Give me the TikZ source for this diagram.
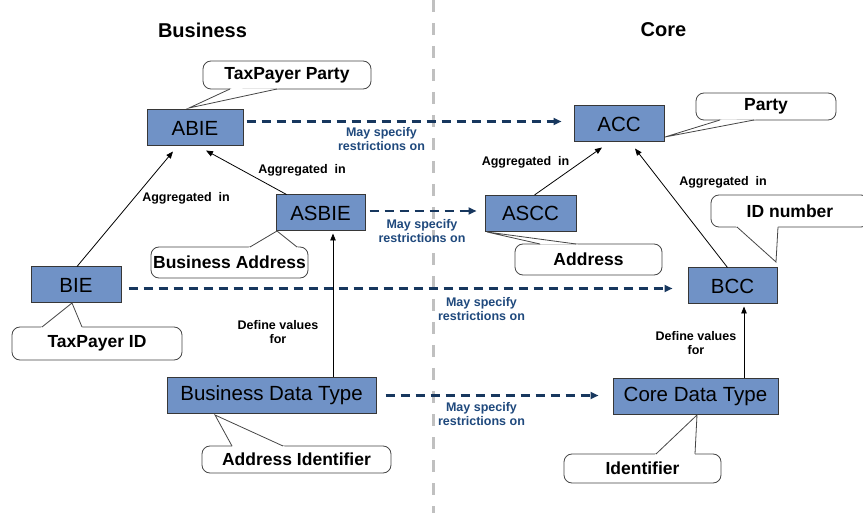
\documentclass[tikz,border=0pt]{standalone}
\usepackage{fontspec}
\setmainfont{Liberation Sans}
\usetikzlibrary{arrows.meta,calc}

\definecolor{boxblue}{RGB}{112,146,198}
\definecolor{boxline}{RGB}{55,55,55}
\definecolor{noteline}{RGB}{70,70,70}
\definecolor{navy}{RGB}{23,55,94}
\definecolor{labelblue}{RGB}{31,73,125}
\definecolor{divider}{RGB}{192,192,192}

% pointer of a speech bubble: base point, tip, base point
\newcommand\wedgeto[3]{%
  \fill[white] ($(#1)!-2pt!(#2)$) -- (#2) -- ($(#3)!-2pt!(#2)$) -- cycle;
  \draw[noteline, line width=0.8pt, line join=miter] (#1) -- (#2) -- (#3);
}
\newcommand\agglabel{Aggregated\hspace{0.55em}in}

\begin{document}
\begin{tikzpicture}[x=1pt,y=-1pt,
  entity/.style={draw=boxline, line width=1pt, fill=boxblue, inner sep=0pt,
    minimum height=36pt, font=\fontsize{20.5}{24}\selectfont},
  note/.style={draw=noteline, line width=0.8pt, fill=white, rounded corners=8pt,
    inner sep=0pt, font=\bfseries\fontsize{17.5}{21}\selectfont},
  relabel/.style={font=\bfseries\fontsize{12.5}{14}\selectfont, align=center, inner sep=0pt},
  restrict/.style={relabel, text=labelblue},
  agg/.style={-{Triangle[length=7pt,width=5.5pt]}, line width=0.8pt},
  spec/.style={-{Triangle[length=8pt,width=7pt]}, navy, line width=2.2pt,
    dash pattern=on 9pt off 6pt},
  header/.style={font=\bfseries\fontsize{20}{24}\selectfont, inner sep=0pt}
]
\useasboundingbox[fill=white] (0,0) rectangle (863,513);

% dividing line between the two layers
\draw[divider, line width=3pt, dash pattern=on 12pt off 11pt] (433,0) -- (433,513);

% column headings
\node[header] (hbus) at (202.5,30) {Business};
\node[header] (hcore) at (663.5,30) {Core};

% components
\node[entity, minimum width=96pt]  (abie)  at (195,128)     {ABIE};
\node[entity, minimum width=90pt]  (acc)   at (619,124)     {ACC};
\node[entity, minimum width=89pt]  (asbie) at (320.5,213)   {ASBIE};
\node[entity, minimum width=91pt]  (ascc)  at (530.5,213.5) {ASCC};
\node[entity, minimum width=90pt]  (bie)   at (76,285)      {BIE};
\node[entity, minimum width=89pt]  (bcc)   at (732.5,286)   {BCC};
\node[entity, minimum width=209pt] (bdt)   at (271.5,395.5) {Business Data Type};
\node[entity, minimum width=165pt] (cdt)   at (695.5,396.5) {Core Data Type};

% speech bubbles
\node[note, minimum width=168pt, minimum height=28pt] (ntp)   at (287,75)    {TaxPayer Party};
\wedgeto{230,89}{189,108}{277,89}
\node[note, minimum width=140pt, minimum height=27pt] (nparty) at (766,106.5) {Party};
\wedgeto{720,120}{665,137}{754,120}
\node[note, minimum width=158pt, minimum height=32pt] (nid)   at (790,211)   {ID number};
\wedgeto{737,227}{776,262}{778,227}
\node[note, minimum width=147pt, minimum height=31pt] (naddr) at (588.5,259.5) {Address};
\wedgeto{540,244}{487,232}{576,244}
\node[note, minimum width=157pt, minimum height=31pt] (nbaddr) at (229.5,262.5) {Business Address};
\wedgeto{250,247}{277,231}{297,247}
\node[note, minimum width=170pt, minimum height=33pt] (ntid)  at (97,343.5)  {TaxPayer ID};
\wedgeto{42,327}{72,303}{82,327}
\node[note, minimum width=189pt, minimum height=27pt] (naid)  at (296.5,459.5) {Address Identifier};
\wedgeto{232,446}{215,415}{283,446}
\node[note, minimum width=157pt, minimum height=29pt] (nident) at (642.5,468.5) {Identifier};
\wedgeto{656,454}{697,415}{695,454}

% aggregation and value definition links
\draw[agg] ($(bie.north)+(1,0)$) -- ($(abie.south)+(-22,5)$);
\draw[agg] ($(asbie.north west)+(11,0)$) -- ($(abie.south)+(11,4)$);
\draw[agg] ($(ascc.north)+(4,0)$) -- ($(acc.south)+(-17,5)$);
\draw[agg] ($(bcc.north)+(-5,0)$) -- ($(acc.south)+(16,6)$);
\coordinate (defl) at ($(asbie.south)+(12.5,2)$);
\draw[agg] (bdt.north -| defl) -- (defl);
\coordinate (defr) at ($(bcc.south)+(11.5,2)$);
\draw[agg] (cdt.north -| defr) -- (defr);

\node[relabel] (l1) at (186,198) {\agglabel};
\node[relabel] (l2) at (302,170) {\agglabel};
\node[relabel] (l3) at (525.5,162) {\agglabel};
\node[relabel] (l4) at (723,182) {\agglabel};
\node[relabel] (l5) at (278,332) {Define values\\for};
\node[relabel] (l6) at (696,343) {Define values\\for};

% restriction links between the layers
\coordinate (s1) at ($(abie.east)+(3,-6.5)$);
\draw[spec, shorten >=12pt] (s1) -- (s1 -| acc.west);
\coordinate (s2) at ($(asbie.east)+(4,-2)$);
\draw[spec, shorten >=8pt] (s2) -- (s2 -| ascc.west);
\coordinate (s3) at ($(bie.east)+(7,3.5)$);
\draw[spec, shorten >=15pt] (s3) -- (s3 -| bcc.west);
\coordinate (s4) at ($(bdt.east)+(9,0)$);
\draw[spec, shorten >=14pt] (s4) -- (s4 -| cdt.west);

\node[restrict] (r1) at (381.5,139) {May specify\\restrictions on};
\node[restrict] (r2) at (422,231)   {May specify\\restrictions on};
\node[restrict] (r3) at (481.5,309) {May specify\\restrictions on};
\node[restrict] (r4) at (481.5,414) {May specify\\restrictions on};
\end{tikzpicture}
\end{document}
